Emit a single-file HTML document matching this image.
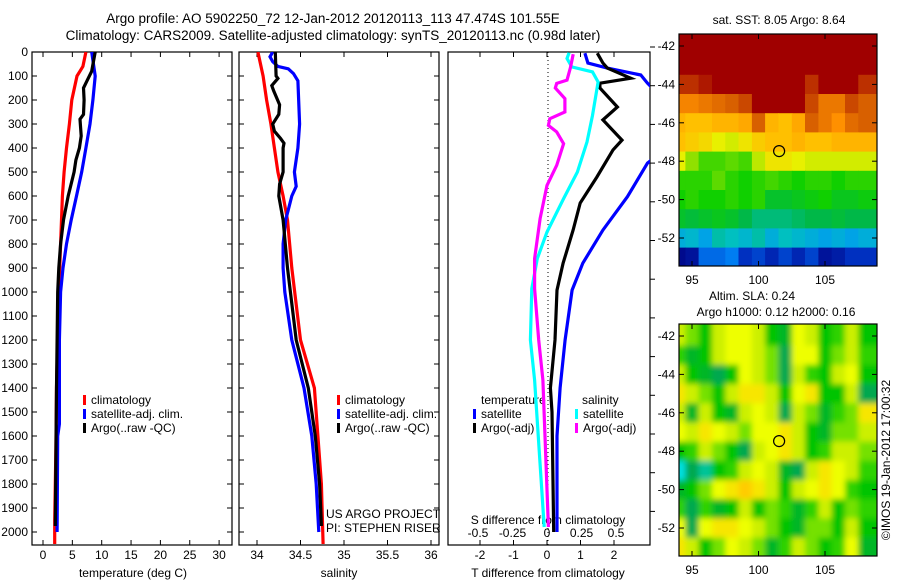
<!DOCTYPE html>
<html><head><meta charset="utf-8"><style>
html,body{margin:0;padding:0;background:#fff;}
svg{display:block;font-family:"Liberation Sans",sans-serif;}
text{font-size:12px;fill:#000;}
</style></head><body>
<svg id="c" width="900" height="580" viewBox="0 0 900 580" xmlns="http://www.w3.org/2000/svg">
<defs>
<clipPath id="clip1"><rect x="32" y="52" width="200" height="493"/></clipPath>
<clipPath id="clip2"><rect x="239" y="52" width="200" height="493"/></clipPath>
<clipPath id="clip3"><rect x="448" y="52" width="202" height="493"/></clipPath>
<clipPath id="clipM1"><rect x="679" y="34" width="198" height="232"/></clipPath>
<clipPath id="clipM2"><rect x="679" y="324" width="198" height="232"/></clipPath>
<filter id="blur" x="0" y="0" width="1" height="1"><feGaussianBlur stdDeviation="3"/></filter>
</defs>
<text x="333" y="23" text-anchor="middle" style="font-size:13.5px">Argo profile: AO 5902250_72 12-Jan-2012 20120113_113 47.474S 101.55E</text>
<text x="333" y="40" text-anchor="middle" style="font-size:13.5px">Climatology: CARS2009. Satellite-adjusted climatology: synTS_20120113.nc (0.98d later)</text>
</svg>
<script>
// ---------- data ----------
const depthTicks=[0,100,200,300,400,500,600,700,800,900,1000,1100,1200,1300,1400,1500,1600,1700,1800,1900,2000];
const tempTicks=[0,5,10,15,20,25,30];
const salTicks=[34,34.5,35,35.5,36];
const salTickLabels=["34","34.5","35","35.5","36"];
const tdTicks=[-2,-1,0,1,2];
const sdTicks=[-0.5,-0.25,0,0.25,0.5];
const sdTickLabels=["-0.5","-0.25","0","0.25","0.5"];

const tClimDepth=[0,60,80,100,200,300,400,500,600,800,1000,1200,1400,1650,1950,2050];
const tClimVal=[7.3,6.8,6.3,5.8,4.9,4.5,4.0,3.6,3.3,3.0,2.7,2.5,2.3,2.2,2.0,2.0];
const tSatDepth=[0,100,200,300,400,500,600,700,800,900,1000,1200,1400,1550,1600,2000];
const tSatVal=[8.3,8.9,8.5,8.0,7.3,6.6,5.7,4.8,4.0,3.4,3.0,2.8,2.8,2.8,2.5,2.4];
const tArgoDepth=[0,80,120,150,200,260,280,350,400,450,500,600,700,800,900,1000,1400,1975];
const tArgoVal=[8.9,8.3,7.5,6.9,7.0,6.9,6.3,6.5,6.2,5.6,5.3,4.3,3.5,3.0,2.7,2.5,2.3,2.1];

const sClimDepth=[0,100,200,300,400,500,600,700,900,1200,1400,1600,1800,2050];
const sClimVal=[34.01,34.07,34.11,34.16,34.2,34.24,34.3,34.35,34.4,34.5,34.66,34.7,34.74,34.76];
const sSatDepth=[0,20,40,60,70,90,120,300,400,500,560,600,700,800,900,1000,1200,1400,1600,1800,2000];
const sSatVal=[34.18,34.15,34.18,34.24,34.36,34.42,34.47,34.49,34.47,34.43,34.45,34.4,34.33,34.3,34.3,34.32,34.4,34.54,34.63,34.68,34.71];
const sArgoDepth=[0,100,110,140,160,220,260,300,330,360,380,400,500,550,600,700,900,1200,1400,1600,1800,1975];
const sArgoVal=[34.21,34.22,34.24,34.17,34.19,34.26,34.25,34.18,34.2,34.27,34.31,34.3,34.3,34.26,34.25,34.3,34.35,34.45,34.59,34.67,34.72,34.74];

const dTSatDepth=[5,46,67,96,130,200,300,420,463,603,742,880,992,1200,1400,1600,2000];
const dTSatVal=[1.13,1.22,1.8,2.8,3.0,3.5,3.8,3.4,3.0,2.4,1.67,1.07,0.75,0.54,0.39,0.3,0.3];
const dTArgoDepth=[5,46,67,109,130,150,229,283,367,408,521,629,742,880,992,1200,1400,1500,2000];
const dTArgoVal=[1.5,1.67,1.8,2.5,1.58,1.58,2.1,1.67,2.24,1.97,1.49,0.99,0.78,0.48,0.3,0.24,0.1,0.15,0.2];
const dSSatDepth=[3,27,62,83,125,264,375,500,611,750,861,986,1200,1367,1979];
const dSSatVal=[0.16,0.145,0.18,0.33,0.37,0.33,0.29,0.22,0.12,0,-0.07,-0.11,-0.12,-0.09,-0.02];
const dSArgoDepth=[9,64,117,131,150,194,250,278,306,333,382,472,556,694,861,986,1200,1367,1979];
const dSArgoVal=[0.19,0.17,0.145,0.07,0.06,0.13,0.13,0.02,0.01,0.07,0.12,0.07,0,-0.05,-0.09,-0.09,-0.06,-0.03,0.01];

const mapLons=[94,95,96,97,98,99,100,101,102,103,104,105,106,107,108];
const mapLats=[-42,-43,-44,-45,-46,-47,-48,-49,-50,-51,-52,-53];
const lonTicks=[95,100,105];
const latTicks=[-42,-44,-46,-48,-50,-52];
const sstGrid=[
[10,10,10,10,10,10,10,10,10,10,10,10,10,10,10],
[10,10,10,10,10,10,10,10,10,10,10,10,10,10,10],
[9.8,9.8,9.9,10,10,10,10,10,10,10,9.8,10,10,10,9.8],
[9.3,9.3,9.4,9.5,9.6,9.7,10,10,10,10,9.7,9.4,9.4,9.7,9.6],
[8.9,8.8,8.8,8.9,8.9,9.0,9.6,8.9,8.8,9.0,9.6,9.4,9.2,9.5,9.6],
[8.8,8.7,8.6,8.4,8.3,8.5,8.7,8.8,8.8,8.9,8.8,8.8,8.9,8.9,8.9],
[8.4,8.0,7.7,7.7,7.8,7.7,8.2,8.5,8.5,8.4,8.3,8.3,8.3,8.3,8.3],
[7.6,7.6,7.6,7.8,7.6,7.5,7.6,7.7,7.6,7.5,7.6,7.6,7.5,7.6,7.6],
[7.5,7.6,7.5,7.5,7.6,7.5,7.6,7.2,7.2,7.3,7.4,7.5,7.3,7.3,7.4],
[7.2,7.1,7.2,7.3,7.2,7.0,6.8,6.8,6.8,6.9,7.0,7.0,7.1,7.0,7.0],
[6.3,6.4,6.2,6.6,6.5,6.4,6.6,6.3,6.5,6.4,6.3,6.2,6.3,6.2,6.3],
[5.1,5.2,5.8,5.8,5.9,5.5,5.6,5.4,5.6,5.4,5.6,5.2,5.3,5.5,5.5]];
const slaGrid=[
[0.05,0.0,-0.1,0.05,0.1,0.1,0.05,-0.1,-0.15,0.1,0.05,-0.1,-0.05,0.05,-0.1],
[-0.05,-0.15,-0.1,0.05,0.1,0.1,0.05,0.0,-0.2,0.1,0.1,-0.1,0.0,0.05,-0.05],
[0.05,-0.1,-0.15,-0.2,-0.1,0.1,0.05,0.0,-0.2,0.05,-0.05,-0.1,0.05,0.1,-0.1],
[0.15,0.05,0.0,-0.1,0.05,0.15,0.15,0.05,-0.1,0.1,0.15,-0.1,-0.1,0.05,-0.2],
[0.05,-0.15,0.05,-0.1,-0.15,0.05,0.1,0.05,-0.2,0.05,0.0,-0.15,-0.05,0.0,0.15],
[0.1,0.05,0.15,0.1,0.05,0.0,0.1,0.1,0.15,0.05,-0.1,-0.15,0.0,0.0,0.05],
[-0.1,-0.05,0.05,0.0,-0.1,-0.2,0.05,0.1,0.15,0.05,-0.1,-0.05,0.05,0.05,0.0],
[-0.3,-0.2,-0.25,-0.1,-0.05,0.05,0.1,0.05,-0.15,-0.2,0.05,0.15,0.1,0.05,-0.05],
[-0.15,-0.1,0.0,0.1,0.15,0.2,0.15,0.05,-0.1,0.05,0.1,0.15,0.1,-0.05,-0.1],
[-0.05,-0.2,-0.05,-0.15,-0.1,0.05,-0.1,0.0,-0.05,-0.15,-0.05,0.05,-0.1,0.0,-0.05],
[0.1,-0.2,0.1,0.15,0.15,0.1,0.05,0.0,-0.1,-0.15,0.0,0.0,-0.1,0.05,-0.1],
[0.15,0.05,-0.1,0.0,0.1,0.05,0.0,-0.15,-0.05,0.05,0.0,-0.1,-0.05,0.1,-0.15]];
const argoLon=101.55, argoLat=-47.474;

// ---------- helpers ----------
const NS="http://www.w3.org/2000/svg";
const svg=document.getElementById('c');
function mk(tag,attrs,parent){const e=document.createElementNS(NS,tag);for(const k in attrs)e.setAttribute(k,attrs[k]);(parent||svg).appendChild(e);return e;}
function txt(x,y,s,anchor,parent,size){const e=mk('text',{x:x,y:y,'text-anchor':anchor||'start'},parent);if(size)e.style.fontSize=size+'px';e.textContent=s;return e;}
const yD=d=>52+d*0.24;
const xT=t=>43+t*5.87;
const xS=s=>257+(s-34)*87;
const xDT=t=>547+t*33.5;
const xDS=s=>547+s*138;

function frame(x0,x1,name){
  const g=mk('g',{});
  
  
  mk('rect',{x:x0,y:52,width:x1-x0,height:493,fill:'none',stroke:'#000','stroke-width':1.2},g);
  return g;
}
function depthAxis(x0,x1,labels,g){
  depthTicks.forEach(d=>{const y=yD(d);
    mk('line',{x1:x0,y1:y,x2:x0+5,y2:y,stroke:'#000'},g);
    mk('line',{x1:x1,y1:y,x2:x1-5,y2:y,stroke:'#000'},g);
    if(labels){txt(x0-4,y+4,String(d),'end',g);}
  });
}
function xTicks(vals,labs,fx,x0,x1,g,labelY){
  vals.forEach((v,i)=>{const x=fx(v);
    mk('line',{x1:x,y1:545,x2:x,y2:540,stroke:'#000'},g);
    mk('line',{x1:x,y1:52,x2:x,y2:57,stroke:'#000'},g);
    txt(x,labelY,labs[i],'middle',g);
  });
}
function line(depths,vals,fx,color,clip,name){
  const pts=depths.map((d,i)=>fx(vals[i]).toFixed(1)+','+yD(d).toFixed(1)).join(' ');
  const p=mk('polyline',{points:pts,fill:'none',stroke:color,'stroke-width':3.2,'clip-path':'url(#'+clip+')','stroke-linejoin':'miter'});
  
  
}
function legend(x,y,items,g){
  items.forEach((it,i)=>{
    mk('rect',{x:x,y:y+i*14-9,width:3,height:10,fill:it[0]},g);
    txt(x+8,y+i*14,it[1],'start',g);
  });
}

// ---------- panel 1: temperature ----------
const g1=frame(32,232,'temperature-panel');
depthAxis(32,232,true,g1);
xTicks(tempTicks,tempTicks.map(String),xT,32,232,g1,559);
txt(133,577,'temperature (deg C)','middle',g1);
line(tClimDepth,tClimVal,xT,'#ff0000','clip1','temp-climatology-line');
line(tSatDepth,tSatVal,xT,'#0000ff','clip1','temp-satellite-line');
line(tArgoDepth,tArgoVal,xT,'#000000','clip1','temp-argo-line');
const l1=mk('g',{},g1);


legend(83,404,[['#ff0000','climatology'],['#0000ff','satellite-adj. clim.'],['#000','Argo(..raw -QC)']],l1);

// ---------- panel 2: salinity ----------
const g2=frame(239,439,'salinity-panel');
depthAxis(239,439,false,g2);
xTicks(salTicks,salTickLabels,xS,239,439,g2,559);
txt(339,577,'salinity','middle',g2);
line(sClimDepth,sClimVal,xS,'#ff0000','clip2','sal-climatology-line');
line(sSatDepth,sSatVal,xS,'#0000ff','clip2','sal-satellite-line');
line(sArgoDepth,sArgoVal,xS,'#000000','clip2','sal-argo-line');
const l2=mk('g',{},g2);


legend(337,404,[['#ff0000','climatology'],['#0000ff','satellite-adj. clim.'],['#000','Argo(..raw -QC)']],l2);
txt(326,518,'US ARGO PROJECT','start',g2);
txt(326,532,'PI: STEPHEN RISER','start',g2);

// ---------- panel 3: differences ----------
const g3=mk('g',{});


mk('rect',{x:448,y:52,width:202,height:493,fill:'none',stroke:'#000','stroke-width':1.2},g3);
mk('line',{x1:548,y1:52,x2:548,y2:545,stroke:'#000','stroke-dasharray':'1,3'},g3);
tdTicks.forEach(v=>{const x=xDT(v);
  mk('line',{x1:x,y1:52,x2:x,y2:57,stroke:'#000'},g3);
  mk('line',{x1:x,y1:545,x2:x,y2:540,stroke:'#000'},g3);
  txt(x,559,String(v),'middle',g3);});
sdTicks.forEach((v,i)=>{txt(xDS(v),537,sdTickLabels[i],'middle',g3);});
txt(548,524,'S difference from climatology','middle',g3);
txt(548,577,'T difference from climatology','middle',g3);
for(let y=47;y<545;y+=38.7){mk('line',{x1:650,y1:y,x2:655,y2:y,stroke:'#000'},g3);}
line(dTSatDepth,dTSatVal,xDT,'#0000ff','clip3','tdiff-satellite-line');
line(dTArgoDepth,dTArgoVal,xDT,'#000000','clip3','tdiff-argo-line');
line(dSSatDepth,dSSatVal,xDS,'#00ffff','clip3','sdiff-satellite-line');
line(dSArgoDepth,dSArgoVal,xDS,'#ff00ff','clip3','sdiff-argo-line');
const l3=mk('g',{},g3);


txt(481,404,'temperature','start',l3);
txt(582,404,'salinity','start',l3);
legend(473,418,[['#0000ff','satellite'],['#000','Argo(-adj)']],l3);
legend(575,418,[['#00ffff','satellite'],['#ff00ff','Argo(-adj)']],l3);

// ---------- maps ----------
const xLon=l=>692+(l-95)*13.3;
function hexToRgb(h){return [parseInt(h.substr(1,2),16),parseInt(h.substr(3,2),16),parseInt(h.substr(5,2),16)];}
function cmap(v,stops){
  if(v<=stops[0][0])return stops[0][1];
  for(let i=1;i<stops.length;i++){if(v<=stops[i][0]){const a=stops[i-1],b=stops[i];const f=(v-a[0])/(b[0]-a[0]);
    const ca=hexToRgb(a[1]),cb=hexToRgb(b[1]);return 'rgb('+ca.map((c,k)=>Math.round(c+(cb[k]-c)*f)).join(',')+')';}}
  return stops[stops.length-1][1];
}
const sstStops=[[5,'#000080'],[5.5,'#0030c0'],[6,'#0090ff'],[6.5,'#00c0c0'],[7,'#00b848'],[7.5,'#10d000'],[8,'#90e000'],[8.4,'#e8f000'],[8.8,'#ffc000'],[9.2,'#ff9000'],[9.6,'#d86000'],[10,'#a00000']];
const slaStops=[[-0.3,'#00e0e0'],[-0.2,'#00a850'],[-0.1,'#00c400'],[-0.03,'#40d800'],[0.05,'#ccf000'],[0.1,'#eeff00'],[0.2,'#ffcc00'],[0.3,'#ff9900']];

function drawMap(top,grid,stops,clip,name,blur){
  const yLat=l=>top+12+(-42-l)*19.2;
  const g=mk('g',{});
  
  
  const cg=mk('g',{'clip-path':'url(#'+clip+')'},g);
  const inner=mk('g',blur?{filter:'url(#blur)'}:{},cg);
  if(blur)mk('rect',{x:660,y:top-20,width:240,height:272,fill:cmap(0.05,stops)},inner);
  grid.forEach((row,r)=>{const lat=mapLats[r];
    let y0=yLat(lat+0.5),y1=yLat(lat-0.5);
    if(r===0)y0=top-20; if(r===grid.length-1)y1=top+252;
    row.forEach((v,c)=>{const lon=mapLons[c];
      let x0=xLon(lon-0.5),x1=xLon(lon+0.5);
      if(c===0)x0=660; if(c===row.length-1)x1=900;
      const cell=mk('rect',{x:x0.toFixed(1),y:y0.toFixed(1),width:(x1-x0+0.6).toFixed(1),height:(y1-y0+0.6).toFixed(1),fill:cmap(v,stops)},inner);
      
      
    });
  });
  mk('rect',{x:679,y:top,width:198,height:232,fill:'none',stroke:'#000','stroke-width':1.2},g);
  latTicks.forEach(l=>{const y=yLat(l);
    mk('line',{x1:679,y1:y,x2:684,y2:y,stroke:'#000'},g);
    mk('line',{x1:877,y1:y,x2:872,y2:y,stroke:'#000'},g);
    txt(675,y+4,String(l),'end',g);});
  lonTicks.forEach(l=>{const x=xLon(l);
    mk('line',{x1:x,y1:top,x2:x,y2:top+5,stroke:'#000'},g);
    mk('line',{x1:x,y1:top+232,x2:x,y2:top+227,stroke:'#000'},g);
    txt(x,top+250,String(l),'middle',g);});
  const m=mk('circle',{cx:xLon(argoLon),cy:yLat(argoLat),r:5.5,fill:'none',stroke:'#000','stroke-width':1.2},g);
  
  
}
drawMap(34,sstGrid,sstStops,'clipM1','sst-map',false);
drawMap(324,slaGrid,slaStops,'clipM2','sla-map',true);
txt(779,24,'sat. SST: 8.05 Argo: 8.64','middle');
txt(752,300,'Altim. SLA: 0.24','middle');
txt(776,316,'Argo h1000: 0.12 h2000: 0.16','middle');
const cr=txt(0,0,'©IMOS 19-Jan-2012 17:00:32','middle');
cr.setAttribute('transform','translate(890,460) rotate(-90)');


</script>
</body></html>
